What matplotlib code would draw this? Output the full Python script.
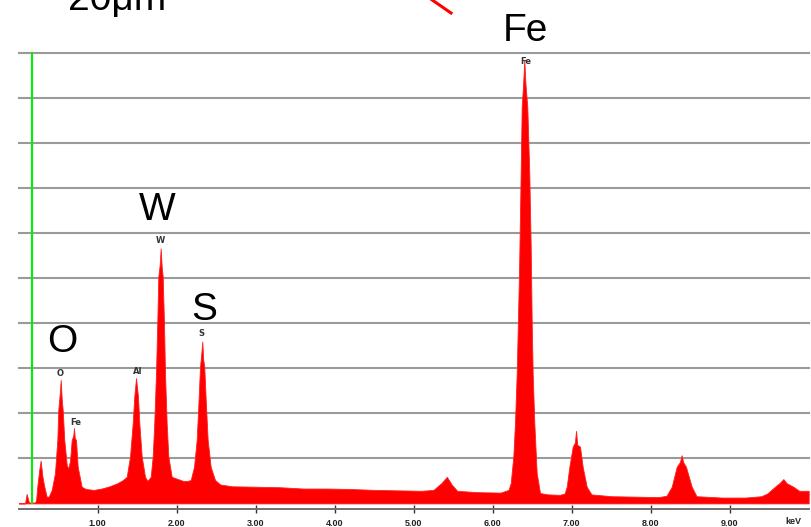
import numpy as np
import matplotlib.pyplot as plt
from matplotlib.lines import Line2D

# EDS spectrum (energy in keV, intensity in grid units)
energy = [0.00, 0.08, 0.10, 0.13, 0.20, 0.219, 0.235, 0.26, 0.278, 0.30, 0.324, 0.354, 0.38,
          0.418, 0.459, 0.489, 0.501, 0.52, 0.532, 0.545, 0.557, 0.577, 0.608, 0.628, 0.65,
          0.671, 0.69, 0.700, 0.71, 0.725, 0.747, 0.797, 0.85, 0.95, 1.05, 1.15, 1.25, 1.32,
          1.367, 1.409, 1.443, 1.463, 1.485, 1.510, 1.527, 1.557, 1.599, 1.63,
          1.671, 1.696, 1.716, 1.738, 1.754, 1.767, 1.785, 1.797, 1.81, 1.823, 1.839, 1.852,
          1.873, 1.894, 1.937, 2.0, 2.08, 2.14,
          2.177, 2.219, 2.253, 2.273, 2.295, 2.31, 2.324, 2.335, 2.349, 2.371, 2.392, 2.430,
          2.485, 2.55, 2.7, 3.0, 3.3, 3.6, 3.9, 4.2, 4.5, 4.8, 5.1, 5.25, 5.35, 5.42, 5.48,
          5.55, 5.8, 6.1, 6.2,
          6.228, 6.261, 6.282, 6.304, 6.333, 6.354, 6.367, 6.385, 6.400, 6.415, 6.438, 6.463,
          6.481, 6.494, 6.506, 6.527, 6.557, 6.599, 6.7, 6.85,
          6.91, 6.937, 6.97, 7.013, 7.04, 7.055, 7.07, 7.105, 7.139, 7.19, 7.25, 7.5, 7.8,
          8.1, 8.2, 8.266, 8.329, 8.37, 8.392, 8.41, 8.447, 8.519, 8.58, 8.9, 9.2,
          9.4, 9.476, 9.573, 9.63, 9.679, 9.72, 9.805, 9.88, 10.0]
counts = [0.0, 0.0, 0.21, 0.02, 0.02, 0.05, 0.37, 0.75, 0.95, 0.60, 0.37, 0.15, 0.15,
          0.30, 0.67, 1.41, 2.07, 2.45, 2.74, 2.30, 2.07, 1.41, 0.85, 0.78, 0.95,
          1.41, 1.50, 1.67, 1.45, 1.41, 0.81, 0.37, 0.32, 0.30, 0.33, 0.38, 0.45, 0.52,
          0.59, 1.04, 1.78, 2.37, 2.78, 2.37, 1.78, 1.04, 0.59, 0.50,
          0.59, 1.04, 1.78, 2.89, 4.00, 5.03, 5.30, 5.66, 5.25, 5.03, 4.00, 2.89,
          1.78, 1.04, 0.59, 0.55, 0.50, 0.50,
          0.52, 0.81, 1.41, 2.15, 3.03, 3.30, 3.59, 3.20, 3.03, 2.15, 1.41, 0.81,
          0.52, 0.42, 0.38, 0.37, 0.36, 0.33, 0.33, 0.32, 0.30, 0.29, 0.28, 0.30, 0.45, 0.59, 0.42,
          0.28, 0.25, 0.24, 0.30,
          0.45, 1.04, 1.78, 2.89, 5.11, 7.33, 8.80, 9.30, 9.84, 9.30, 8.80, 7.33,
          5.70, 4.00, 2.89, 1.78, 0.67, 0.23, 0.20, 0.19,
          0.22, 0.37, 0.81, 1.26, 1.35, 1.61, 1.30, 1.26, 0.81, 0.37, 0.20, 0.16, 0.15,
          0.14, 0.17, 0.37, 0.81, 0.92, 1.07, 0.92, 0.81, 0.37, 0.16, 0.13, 0.13,
          0.16, 0.22, 0.37, 0.45, 0.54, 0.45, 0.37, 0.28, 0.28]

# element markers: (label, x keV, y)
small_labels = [('Fe', 6.42, 9.80), ('W', 1.789, 5.84), ('S', 2.316, 3.76),
                ('Al', 1.506, 2.92), ('O', 0.523, 2.89), ('Fe', 0.725, 1.79)]
big_labels = [('Fe', 6.41, 10.27), ('W', 1.75, 6.29), ('S', 2.352, 4.07), ('O', 0.554, 3.36)]
tick_pos = [1, 2, 3, 4, 5, 6, 7, 8, 9]
tick_text = ['1.00', '2.00', '3.00', '4.00', '5.00', '6.00', '7.00', '8.00', '9.00']

W, H = 811, 527
fig = plt.figure(figsize=(W / 100, H / 100), dpi=100)
ax = fig.add_axes([18.7 / W, 1 - 509 / H, 790 / W, (509 - 52.7) / H])
ax.set_xlim(0, 10)
ax.set_ylim(-0.124, 10)

# horizontal grid
for g in range(1, 11):
    ax.axhline(g, color='#9a9a9a', lw=1.5, zorder=1, clip_on=False)

ax.fill_between(energy, 0, counts, color='#ff0000', lw=0.6, edgecolor='#ff2020', zorder=2)

# green marker line
ax.plot([0.17, 0.17], [0, 10], color='#00f000', lw=1.5, zorder=3, clip_on=False)

for sp in ['top', 'left', 'right']:
    ax.spines[sp].set_visible(False)
ax.spines['bottom'].set_color('#707070')
ax.spines['bottom'].set_linewidth(1.4)
ax.set_yticks([])
ax.set_xticks(tick_pos)
ax.set_xticklabels(tick_text, fontsize=6.5, fontweight='bold', color='#222222',
                   family='Liberation Sans')
ax.tick_params(axis='x', direction='inout', length=6, width=1, color='#333333', pad=4)
ax.text(9.80, -0.124 - 0.27, 'keV', fontsize=6.5, fontweight='bold', color='#222222',
        ha='center', va='center', family='Liberation Sans')

for lab, x, y in small_labels:
    ax.text(x, y, lab, fontsize=6, fontweight='bold', color='#333333', ha='center',
            va='center', family='DejaVu Sans', zorder=4)

for lab, x, y in big_labels:
    ax.text(x, y, lab, fontsize=28, color='black', ha='center', va='baseline',
            family='Liberation Sans', zorder=4)

# cut-off scale bar text and red pointer from the original slide
ax.text(0.624, 10.95, '20μm', fontsize=28, color='black', ha='left', va='baseline',
        family='Liberation Sans')
fig.add_artist(Line2D([425 / W, 451 / W], [1 + 5 / H, 1 - 13 / H], color='red', lw=2.2))

fig.savefig('out.png', dpi=100)
